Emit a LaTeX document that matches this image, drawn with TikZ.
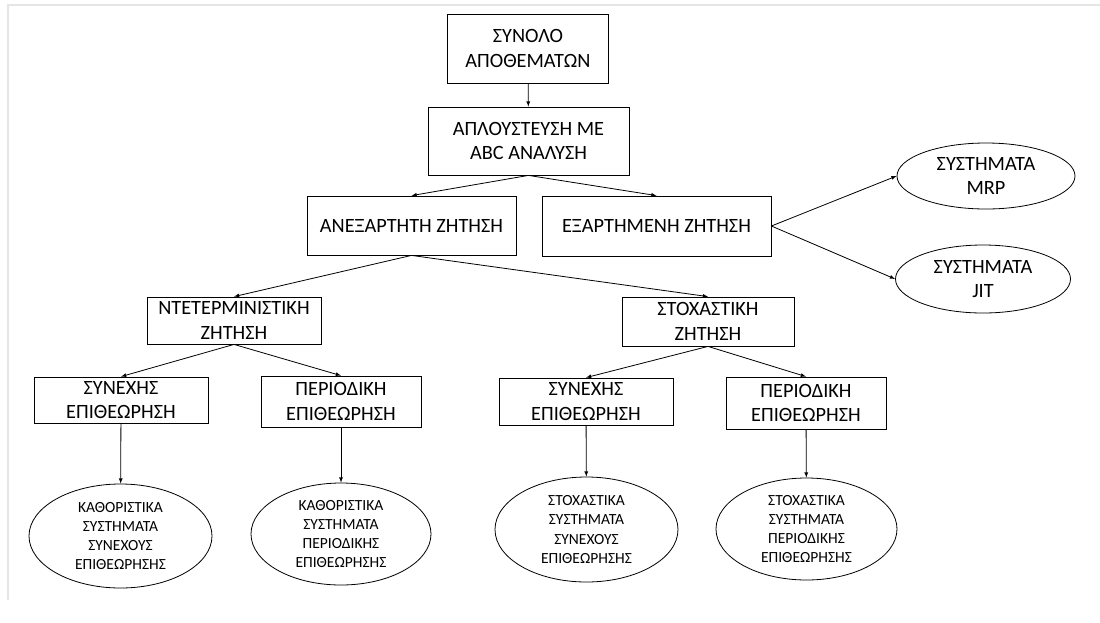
\documentclass[tikz,border=0pt]{standalone}
\usepackage{fontspec}
\setmainfont{Carlito}
\usetikzlibrary{shapes.geometric}
\begin{document}
\begin{tikzpicture}[
      x=1pt, y=-1pt,
      every node/.style={align=center, inner sep=0pt, font=\fontsize{20.3}{24.5}\selectfont},
      box/.style={draw, rectangle, line width=0.8pt},
      oval/.style={draw, ellipse, line width=0.8pt},
      small/.style={font=\fontsize{15.5}{19.3}\selectfont},
      link/.style={draw, -latex, line width=0.8pt}
      ]
      \useasboundingbox (0,0) rectangle (1100,622);
      \draw[gray!20, line width=1.5pt] (8,600) -- (8,5) -- (1100,5);
      % top of the tree
      \node[box, minimum width=161pt, minimum height=69pt] (total) at (528,48.5) {ΣΥΝΟΛΟ\\ΑΠΟΘΕΜΑΤΩΝ};
      \node[box, minimum width=201pt, minimum height=68pt] (abc) at (528.5,141) {ΑΠΛΟΥΣΤΕΥΣΗ ΜΕ\\ΑΒC ΑΝΑΛΥΣΗ};
      \node[box, minimum width=209pt, minimum height=59pt] (indep) at (411.5,225.5) {ΑΝΕΞΑΡΤΗΤΗ ΖΗΤΗΣΗ};
      \node[box, minimum width=229pt, minimum height=60pt] (dep) at (656.5,226) {ΕΞΑΡΤΗΜΕΝΗ ΖΗΤΗΣΗ};
      \node[oval, minimum width=178pt, minimum height=66pt] (mrp) at (986,176) {ΣΥΣΤΗΜΑΤΑ\\MRP};
      \node[oval, minimum width=175pt, minimum height=68pt] (jit) at (983,279) {ΣΥΣΤΗΜΑΤΑ\\JIT};
      % demand types
      \node[box, minimum width=174pt, minimum height=47pt] (det) at (234,320.5) {ΝΤΕΤΕΡΜΙΝΙΣΤΙΚΗ\\ΖΗΤΗΣΗ};
      \node[box, minimum width=172pt, minimum height=49pt] (stoch) at (708,321.5) {ΣΤΟΧΑΣΤΙΚΗ\\ΖΗΤΗΣΗ};
      % review policies
      \node[box, minimum width=174pt, minimum height=46pt] (detcont) at (121,400) {ΣΥΝΕΧΗΣ\\ΕΠΙΘΕΩΡΗΣΗ};
      \node[box, minimum width=160pt, minimum height=51pt] (detper) at (341,401.5) {ΠΕΡΙΟΔΙΚΗ\\ΕΠΙΘΕΩΡΗΣΗ};
      \node[box, minimum width=174pt, minimum height=47pt] (stcont) at (586,401.5) {ΣΥΝΕΧΗΣ\\ΕΠΙΘΕΩΡΗΣΗ};
      \node[box, minimum width=160pt, minimum height=52pt] (stper) at (806,403) {ΠΕΡΙΟΔΙΚΗ\\ΕΠΙΘΕΩΡΗΣΗ};
      % systems
      \node[oval, small, minimum width=183pt, minimum height=104pt] (detcontsys) at (120.5,536) {ΚΑΘΟΡΙΣΤΙΚΑ\\ΣΥΣΤΗΜΑΤΑ\\ΣΥΝΕΧΟΥΣ\\ΕΠΙΘΕΩΡΗΣΗΣ};
      \node[oval, small, minimum width=180pt, minimum height=102pt] (detpersys) at (341,534) {ΚΑΘΟΡΙΣΤΙΚΑ\\ΣΥΣΤΗΜΑΤΑ\\ΠΕΡΙΟΔΙΚΗΣ\\ΕΠΙΘΕΩΡΗΣΗΣ};
      \node[oval, small, minimum width=183pt, minimum height=105pt] (stcontsys) at (586.5,529.5) {ΣΤΟΧΑΣΤΙΚΑ\\ΣΥΣΤΗΜΑΤΑ\\ΣΥΝΕΧΟΥΣ\\ΕΠΙΘΕΩΡΗΣΗΣ};
      \node[oval, small, minimum width=181pt, minimum height=102pt] (stpersys) at (806.5,529) {ΣΤΟΧΑΣΤΙΚΑ\\ΣΥΣΤΗΜΑΤΑ\\ΠΕΡΙΟΔΙΚΗΣ\\ΕΠΙΘΕΩΡΗΣΗΣ};

      \path[link] (total) -- (abc);
      \path[link] (abc.south) -- (indep.north);
      \path[link] (abc.south) -- (dep.north);
      \path[link] (dep.east) -- (mrp.west);
      \path[link] (dep.east) -- (jit.west);
      \path[link] (indep.south) -- (det.north);
      \path[link] (indep.south) -- (stoch.north);
      \path[link] (det.south) -- (detcont.north);
      \path[link] (det.south) -- (detper.north);
      \path[link] (stoch.south) -- (stcont.north);
      \path[link] (stoch.south) -- (stper.north);
      \path[link] (detcont) -- (detcontsys);
      \path[link] (detper) -- (detpersys);
      \path[link] (stcont) -- (stcontsys);
      \path[link] (stper) -- (stpersys);
\end{tikzpicture}
\end{document}
